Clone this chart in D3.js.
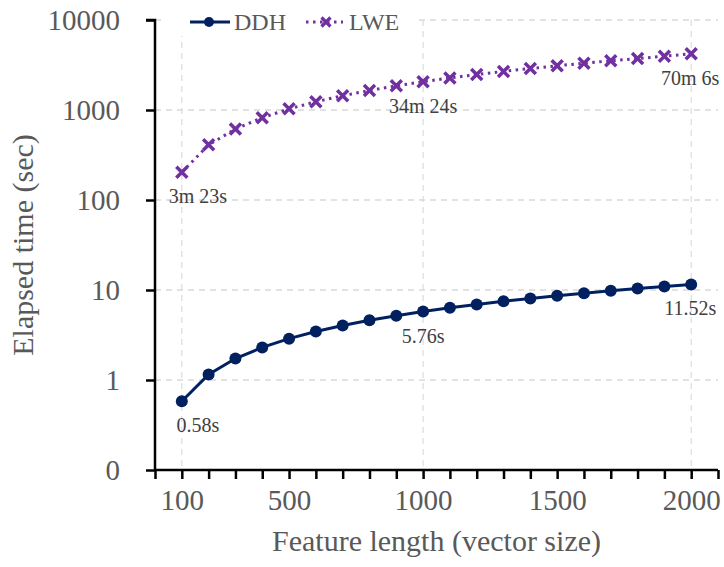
<!DOCTYPE html>
<html>
<head>
<meta charset="utf-8">
<script src="https://cdn.jsdelivr.net/npm/d3@7"></script>
<style>
  body { margin: 0; background: #fff; }
  svg text { font-family: "Liberation Serif", "Times New Roman", serif; }
</style>
</head>
<body>
<svg id="chart" width="724" height="567"></svg>
<script>
// Elapsed time chart: DDH vs LWE

const featureLengths = [100, 200, 300, 400, 500, 600, 700, 800, 900, 1000,
  1100, 1200, 1300, 1400, 1500, 1600, 1700, 1800, 1900, 2000];
const ddhSeconds = [0.58, 1.15, 1.73, 2.30, 2.88, 3.46, 4.03, 4.61, 5.18, 5.76,
  6.34, 6.91, 7.49, 8.06, 8.64, 9.22, 9.79, 10.37, 10.94, 11.52];
const lweSeconds = [203, 410, 615, 820, 1030, 1235, 1440, 1650, 1855, 2064,
  2270, 2480, 2685, 2890, 3100, 3310, 3520, 3730, 3960, 4206];
const yTicks = [0.1, 1, 10, 100, 1000, 10000];
const yTickLabels = ["0", "1", "10", "100", "1000", "10000"];
const xTickLabels = [100, 500, 1000, 1500, 2000];
const xGridValues = [100, 1000, 2000];
// data labels: [index, text]
const ddhLabels = [[0, "0.58s"], [9, "5.76s"], [19, "11.52s"]];
const lweLabels = [[0, "3m 23s"], [9, "34m 24s"], [19, "70m 6s"]];

const ddhColor = "#002060";
const lweColor = "#7030A0";
const gridColor = "#d9d9d9";

const svg = d3.select("#chart");

const x = d3.scaleLinear().domain([0, 2100]).range([155, 718]);
const y = d3.scaleLog().domain([0.1, 10000]).range([470, 20]);

// Gridlines
svg.append("g")
  .selectAll("line")
  .data(yTicks.slice(1))
  .join("line")
  .attr("x1", x(0)).attr("x2", x(2100))
  .attr("y1", d => y(d)).attr("y2", d => y(d))
  .attr("stroke", gridColor).attr("stroke-width", 1.3)
  .attr("stroke-dasharray", "6,5");
svg.append("g")
  .selectAll("line")
  .data(xGridValues)
  .join("line")
  .attr("x1", d => x(d)).attr("x2", d => x(d))
  .attr("y1", y(10000)).attr("y2", y(0.1))
  .attr("stroke", gridColor).attr("stroke-width", 1.1)
  .attr("stroke-dasharray", "6,5");

// Y axis
const yAxis = d3.axisLeft(y)
  .tickValues(yTicks)
  .tickFormat((d, i) => yTickLabels[i])
  .tickSize(9)
  .tickPadding(26);
const yg = svg.append("g")
  .attr("transform", `translate(${x(0)},0)`)
  .call(yAxis);
yg.select(".domain").attr("stroke", "#000").attr("stroke-width", 2.5)
  .attr("d", `M-9,${y(10000)}H0V${y(0.1)}`);
yg.selectAll(".tick line").attr("stroke", "#000").attr("stroke-width", 2.5);
yg.selectAll(".tick text")
  .attr("font-size", 29).attr("fill", "#595959");

// X axis
const xAxis = d3.axisBottom(x)
  .tickValues(d3.range(0, 2101, 100))
  .tickFormat(d => xTickLabels.includes(d) ? d : "")
  .tickSize(9)
  .tickPadding(10);
const xg = svg.append("g")
  .attr("transform", `translate(0,${y(0.1)})`)
  .call(xAxis);
xg.select(".domain").attr("stroke", "#000").attr("stroke-width", 2.5)
  .attr("d", `M${x(0)},0H${x(2100)}`);
xg.selectAll(".tick line").attr("stroke", "#000").attr("stroke-width", 2.5);
xg.selectAll(".tick text")
  .attr("font-size", 29).attr("fill", "#595959");

// Axis titles
svg.append("text")
  .attr("transform", `translate(33,${(y(10000) + y(0.1)) / 2}) rotate(-90)`)
  .attr("text-anchor", "middle")
  .attr("font-size", 30).attr("fill", "#595959")
  .text("Elapsed time (sec)");
svg.append("text")
  .attr("x", (x(0) + x(2100)) / 2).attr("y", 551)
  .attr("text-anchor", "middle")
  .attr("font-size", 30).attr("fill", "#595959")
  .text("Feature length (vector size)");

// Series
const ddhData = featureLengths.map((f, i) => ({x: f, y: ddhSeconds[i]}));
const lweData = featureLengths.map((f, i) => ({x: f, y: lweSeconds[i]}));
const line = d3.line().x(d => x(d.x)).y(d => y(d.y));

svg.append("path")
  .datum(lweData)
  .attr("d", line)
  .attr("fill", "none")
  .attr("stroke", lweColor).attr("stroke-width", 3)
  .attr("stroke-dasharray", "2.5,4.5");
const xMark = (cx, cy, s) => `M${cx - s},${cy - s}L${cx + s},${cy + s}M${cx - s},${cy + s}L${cx + s},${cy - s}`;
svg.append("g")
  .selectAll("path")
  .data(lweData)
  .join("path")
  .attr("d", d => xMark(x(d.x), y(d.y), 5.5))
  .attr("stroke", lweColor).attr("stroke-width", 3.5);

svg.append("path")
  .datum(ddhData)
  .attr("d", line)
  .attr("fill", "none")
  .attr("stroke", ddhColor).attr("stroke-width", 3);
svg.append("g")
  .selectAll("circle")
  .data(ddhData)
  .join("circle")
  .attr("cx", d => x(d.x)).attr("cy", d => y(d.y))
  .attr("r", 6)
  .attr("fill", ddhColor);

// Data labels
const labelShift = [16, 0, -1];
function addLabels(labels, data) {
  svg.append("g")
    .selectAll("text")
    .data(labels)
    .join("text")
    .attr("x", (d, i) => x(data[d[0]].x) + labelShift[i])
    .attr("y", d => y(data[d[0]].y) + 31)
    .attr("text-anchor", "middle")
    .attr("font-size", 20).attr("fill", "#404040")
    .text(d => d[1]);
}
addLabels(ddhLabels, ddhData);
addLabels(lweLabels, lweData);

// Legend
const legend = svg.append("g");
legend.append("rect")
  .attr("x", 166).attr("y", 6).attr("width", 249).attr("height", 30)
  .attr("fill", "#fff");
legend.append("line")
  .attr("x1", 190).attr("x2", 230).attr("y1", 22).attr("y2", 22)
  .attr("stroke", ddhColor).attr("stroke-width", 3);
legend.append("circle")
  .attr("cx", 209).attr("cy", 22).attr("r", 5).attr("fill", ddhColor);
legend.append("text")
  .attr("x", 234).attr("y", 30)
  .attr("font-size", 24).attr("fill", "#595959")
  .text("DDH");
legend.append("line")
  .attr("x1", 306).attr("x2", 343).attr("y1", 22).attr("y2", 22)
  .attr("stroke", lweColor).attr("stroke-width", 3)
  .attr("stroke-dasharray", "2.5,4.5");
legend.append("path")
  .attr("d", xMark(326, 22, 4.5))
  .attr("stroke", lweColor).attr("stroke-width", 3.2);
legend.append("text")
  .attr("x", 349).attr("y", 30)
  .attr("font-size", 24).attr("fill", "#595959")
  .text("LWE");
</script>
</body>
</html>
